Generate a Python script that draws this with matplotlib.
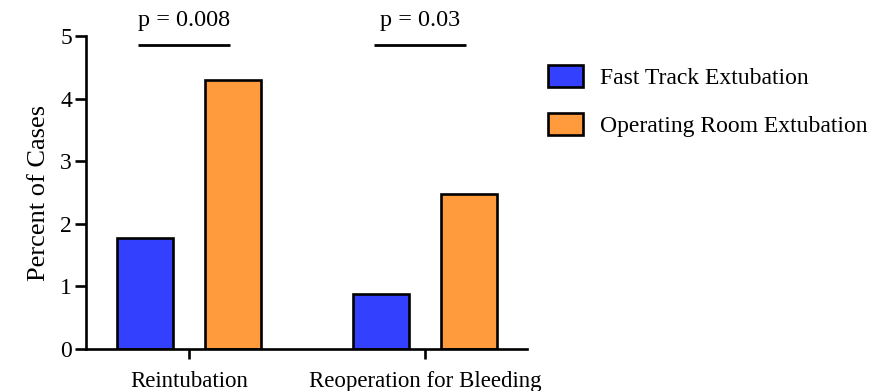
import matplotlib
matplotlib.use("Agg")
import matplotlib.pyplot as plt
import numpy as np

# data
categories = ["Reintubation", "Reoperation for Bleeding"]
series_names = ["Fast Track Extubation", "Operating Room Extubation"]
fast_track = [1.78, 0.88]
operating_room = [4.29, 2.48]
p_labels = ["p = 0.008", "p = 0.03"]

BLUE = "#3341FF"
ORANGE = "#FF9A3D"

plt.rcParams["font.family"] = ["Liberation Serif", "DejaVu Serif"]

fig = plt.figure(figsize=(8.81, 3.91), dpi=100)
ax = fig.add_axes([0.0976, 0.1074, 0.5006, 0.8006])

x = np.arange(len(categories))
w = 0.237
off = 0.186
ax.bar(x - off, fast_track, w, color=BLUE, edgecolor="black", linewidth=1.9,
       label=series_names[0])
ax.bar(x + off, operating_room, w, color=ORANGE, edgecolor="black", linewidth=1.9,
       label=series_names[1])

# significance bars
for xi, lab in zip(x, p_labels):
    ax.plot([xi - 0.215, xi + 0.175], [4.86, 4.86], color="black", lw=2.0,
            clip_on=False, solid_capstyle="butt")
    ax.text(xi - 0.02, 5.08, lab, ha="center", va="bottom", fontsize=17.5,
            clip_on=False)

ax.set_xlim(-0.436, 1.432)
ax.set_ylim(0, 5)
ax.set_yticks([0, 1, 2, 3, 4, 5])
ax.set_xticks(x)
ax.set_xticklabels(categories, fontsize=16.5)
ax.tick_params(axis="y", labelsize=17, width=1.9, length=8, pad=2)
ax.tick_params(axis="x", width=1.9, length=7.5, pad=8)
ax.set_ylabel("Percent of Cases", fontsize=19, labelpad=7)
for s in ("top", "right"):
    ax.spines[s].set_visible(False)
for s in ("left", "bottom"):
    ax.spines[s].set_linewidth(1.9)

fig.legend(loc="upper left", bbox_to_anchor=(0.598, 0.888), frameon=False,
           fontsize=17, handlelength=1.46, handleheight=1.05, handletextpad=0.75,
           labelspacing=1.0)

fig.savefig("out.png", dpi=100)
